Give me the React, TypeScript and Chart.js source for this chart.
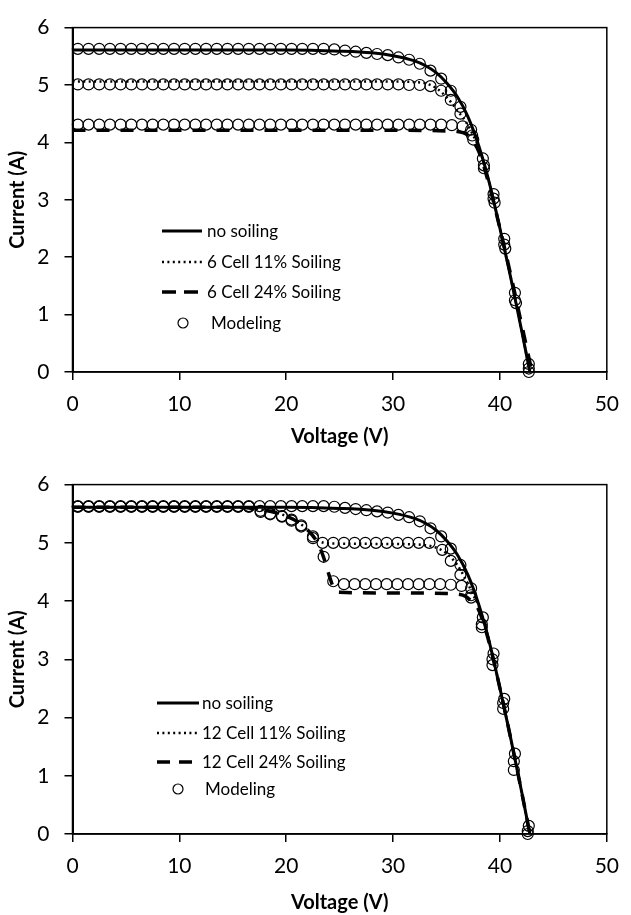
import React, { useEffect, useRef } from "react";
import { Chart, registerables } from "chart.js";
Chart.register(...registerables);

const FONT = "Lato, 'Open Sans', sans-serif";

// ---------- axis ticks ----------
const X_MIN = 0, X_MAX = 50, X_STEP = 10;
const Y_MIN = 0, Y_MAX = 6, Y_STEP = 1;
const X_TITLE = "Voltage (V)";
const Y_TITLE = "Current (A)";

// ---------- no soiling (both panels) ----------
const V_NOSOIL = [0, 10, 20, 25, 28, 30, 32, 33, 34, 35, 36, 37, 38, 39, 40, 41, 42, 42.8];
const I_NOSOIL = [5.61, 5.61, 5.61, 5.59, 5.56, 5.51, 5.42, 5.34, 5.22, 5.04, 4.8, 4.45, 3.95, 3.3, 2.5, 1.65, 0.75, 0.0];

const MV_NOSOIL = [0.5, 1.5, 2.5, 3.5, 4.5, 5.5, 6.5, 7.5, 8.5, 9.5, 10.5, 11.5, 12.5, 13.5, 14.5, 15.5, 16.5, 17.5, 18.5, 19.5, 20.5, 21.5, 22.5, 23.5, 24.5, 25.5, 26.5, 27.5, 28.5, 29.5, 30.5, 31.5, 32.5, 33.5, 34.5, 35.4, 36.3, 37.3, 38.4, 39.4, 40.4, 41.4, 42.7];
const MI_NOSOIL = [5.63, 5.63, 5.63, 5.63, 5.63, 5.63, 5.63, 5.63, 5.63, 5.63, 5.63, 5.63, 5.63, 5.63, 5.63, 5.63, 5.63, 5.63, 5.63, 5.63, 5.63, 5.63, 5.63, 5.63, 5.62, 5.6, 5.58, 5.56, 5.54, 5.52, 5.48, 5.44, 5.37, 5.25, 5.11, 4.9, 4.62, 4.22, 3.72, 3.1, 2.32, 1.38, 0.14];

// ---------- panel 1 : 6 cell ----------
const V_6C11 = [0, 10, 20, 30, 32, 33, 34, 35, 36, 37, 37.5, 38, 39, 40, 41, 42, 42.8];
const I_6C11 = [5.06, 5.06, 5.06, 5.06, 5.05, 5.03, 4.95, 4.79, 4.56, 4.3, 4.12, 3.92, 3.3, 2.5, 1.65, 0.75, 0.0];
const V_6C24 = [0, 10, 20, 30, 35, 36, 36.8, 37.3, 38, 39, 40, 41, 42, 43];
const I_6C24 = [4.21, 4.21, 4.21, 4.21, 4.2, 4.19, 4.15, 4.05, 3.85, 3.25, 2.5, 1.7, 0.85, 0.0];

const MV_6C11 = [0.5, 1.5, 2.5, 3.5, 4.5, 5.5, 6.5, 7.5, 8.5, 9.5, 10.5, 11.5, 12.5, 13.5, 14.5, 15.5, 16.5, 17.5, 18.5, 19.5, 20.5, 21.5, 22.5, 23.5, 24.5, 25.5, 26.5, 27.5, 28.5, 29.5, 30.5, 31.5, 32.5, 33.5, 34.5, 35.4, 36.3, 37.4, 38.5, 39.4, 40.4, 41.4, 42.7];
const MI_6C11 = [5.01, 5.01, 5.01, 5.01, 5.01, 5.01, 5.01, 5.01, 5.01, 5.01, 5.01, 5.01, 5.01, 5.01, 5.01, 5.01, 5.01, 5.01, 5.01, 5.01, 5.01, 5.01, 5.01, 5.01, 5.01, 5.01, 5.01, 5.01, 5.01, 5.01, 5.01, 5.0, 5.0, 4.98, 4.9, 4.74, 4.5, 4.12, 3.6, 3.02, 2.22, 1.25, 0.06];
const MV_6C24 = [0.5, 1.5, 2.5, 3.5, 4.5, 5.5, 6.5, 7.5, 8.5, 9.5, 10.5, 11.5, 12.5, 13.5, 14.5, 15.5, 16.5, 17.5, 18.5, 19.5, 20.5, 21.5, 22.5, 23.5, 24.5, 25.5, 26.5, 27.5, 28.5, 29.5, 30.5, 31.5, 32.5, 33.5, 34.5, 35.5, 36.5, 37.5, 38.5, 39.5, 40.5, 41.5, 42.7];
const MI_6C24 = [4.31, 4.31, 4.31, 4.31, 4.31, 4.31, 4.31, 4.31, 4.31, 4.31, 4.31, 4.31, 4.31, 4.31, 4.31, 4.31, 4.31, 4.31, 4.31, 4.31, 4.31, 4.31, 4.31, 4.31, 4.31, 4.31, 4.31, 4.31, 4.31, 4.31, 4.31, 4.31, 4.31, 4.31, 4.31, 4.3, 4.28, 4.05, 3.55, 2.95, 2.15, 1.2, 0.0];

// ---------- panel 2 : 12 cell ----------
const V_12C11 = [0, 15, 17, 18, 19, 20, 21, 22, 22.5, 23, 23.5, 24, 30, 33, 34, 35, 36, 37, 37.5, 38, 39, 40, 41, 42, 42.8];
const I_12C11 = [5.61, 5.61, 5.59, 5.56, 5.52, 5.46, 5.37, 5.22, 5.12, 5.04, 5.0, 4.99, 4.98, 4.96, 4.92, 4.82, 4.62, 4.3, 4.1, 3.92, 3.3, 2.5, 1.65, 0.75, 0.0];
const V_12C24 = [0, 15, 17, 18, 19, 20, 21, 22, 22.5, 23, 23.5, 24, 24.5, 25, 30, 35, 36, 36.8, 37.3, 38, 39, 40, 41, 42, 42.8];
const I_12C24 = [5.61, 5.61, 5.59, 5.56, 5.52, 5.46, 5.37, 5.22, 5.12, 4.98, 4.75, 4.45, 4.2, 4.15, 4.14, 4.13, 4.12, 4.08, 4.0, 3.85, 3.28, 2.5, 1.65, 0.75, 0.0];

const MV_12C11 = [0.5, 1.5, 2.5, 3.5, 4.5, 5.5, 6.5, 7.5, 8.5, 9.5, 10.5, 11.5, 12.5, 13.5, 14.5, 15.5, 16.5, 17.6, 18.5, 19.6, 20.5, 21.4, 22.5, 23.4, 24.4, 25.4, 26.4, 27.4, 28.4, 29.4, 30.4, 31.4, 32.4, 33.4, 34.6, 35.4, 36.3, 37.3, 38.3, 39.3, 40.3, 41.3, 42.6];
const MI_12C11 = [5.62, 5.62, 5.62, 5.62, 5.62, 5.62, 5.62, 5.62, 5.62, 5.62, 5.62, 5.62, 5.62, 5.62, 5.62, 5.62, 5.62, 5.55, 5.5, 5.46, 5.4, 5.3, 5.11, 5.0, 5.0, 5.0, 5.0, 5.0, 5.0, 5.0, 5.0, 5.0, 5.0, 5.0, 4.88, 4.69, 4.45, 4.1, 3.6, 3.0, 2.25, 1.25, 0.05];
const MV_12C24 = [0.5, 1.5, 2.5, 3.5, 4.5, 5.5, 6.5, 7.5, 8.5, 9.5, 10.5, 11.5, 12.5, 13.5, 14.5, 15.5, 16.5, 17.6, 18.5, 19.6, 20.5, 21.4, 22.5, 23.5, 24.4, 25.4, 26.4, 27.4, 28.4, 29.4, 30.4, 31.4, 32.4, 33.4, 34.4, 35.4, 36.4, 37.3, 38.3, 39.3, 40.3, 41.3, 42.6];
const MI_12C24 = [5.62, 5.62, 5.62, 5.62, 5.62, 5.62, 5.62, 5.62, 5.62, 5.62, 5.62, 5.62, 5.62, 5.62, 5.62, 5.62, 5.62, 5.53, 5.49, 5.45, 5.38, 5.28, 5.08, 4.76, 4.34, 4.29, 4.29, 4.29, 4.29, 4.29, 4.29, 4.29, 4.29, 4.29, 4.29, 4.28, 4.26, 4.06, 3.55, 2.9, 2.15, 1.1, 0.0];

const LABELS_1 = ["no soiling", "6 Cell 11% Soiling", "6 Cell 24% Soiling", "Modeling"];
const LABELS_2 = ["no soiling", "12 Cell 11% Soiling", "12 Cell 24% Soiling", "Modeling"];

const SOLID: number[] = [];
const DOTTED = [2, 3.4];
const DASHED = [13, 11];

function pts(v: number[], c: number[]) {
  return v.map((x, i) => ({ x, y: c[i] }));
}

function lineDs(label: string, v: number[], c: number[], dash: number[], width: number) {
  return {
    label,
    data: pts(v, c),
    showLine: true,
    borderColor: "#000",
    backgroundColor: "#000",
    borderWidth: width,
    borderDash: dash,
    pointRadius: 0,
    pointHoverRadius: 0,
    fill: false,
    cubicInterpolationMode: "monotone",
    clip: 10,
  };
}

function circleDs(label: string, v: number[], c: number[]) {
  return {
    label,
    data: pts(v, c),
    showLine: false,
    pointRadius: 5.5,
    pointHoverRadius: 5.5,
    pointBorderWidth: 1.2,
    pointBorderColor: "#000",
    pointBackgroundColor: "rgba(0,0,0,0)",
    clip: 10,
  };
}

const framePlugin = {
  id: "frame",
  afterDraw(chart: any) {
    const { ctx, chartArea: a } = chart;
    ctx.save();
    ctx.strokeStyle = "#000";
    ctx.lineWidth = 1.5;
    ctx.setLineDash([]);
    ctx.strokeRect(a.left, a.top, a.right - a.left, a.bottom - a.top);
    ctx.restore();
  },
};

const legendPlugin = {
  id: "ivLegend",
  afterDraw(chart: any, _args: any, opts: any) {
    const { ctx } = chart;
    const L = opts.layout;
    ctx.save();
    ctx.fillStyle = "#000";
    ctx.strokeStyle = "#000";
    ctx.font = `${L.fontSize}px ${FONT}`;
    ctx.textBaseline = "middle";
    ctx.textAlign = "left";
    opts.items.forEach((it: any, i: number) => {
      const y = L.rows[i];
      if (it.kind === "line") {
        ctx.beginPath();
        ctx.setLineDash(it.dash);
        ctx.lineWidth = it.width;
        ctx.moveTo(L.x1, y);
        ctx.lineTo(L.x2, y);
        ctx.stroke();
        ctx.setLineDash([]);
        ctx.fillText(it.label, L.textX, y + 1);
      } else {
        ctx.beginPath();
        ctx.lineWidth = 1.2;
        ctx.arc(L.circleX, y, 5, 0, Math.PI * 2);
        ctx.stroke();
        ctx.fillText(it.label, L.circleTextX, y + 1);
      }
    });
    ctx.restore();
  },
};

function makeConfig(p: any) {
  return {
    type: "scatter",
    data: { datasets: p.datasets },
    plugins: [framePlugin, legendPlugin],
    options: {
      animation: false,
      responsive: false,
      devicePixelRatio: 1,
      events: [],
      layout: { padding: { top: p.plotTop, right: 16, left: 0, bottom: 0 } },
      plugins: {
        legend: { display: false },
        tooltip: { enabled: false },
        ivLegend: { items: p.legendItems, layout: p.legendLayout },
      },
      scales: {
        x: {
          type: "linear",
          min: X_MIN,
          max: X_MAX,
          afterFit(s: any) {
            s.height = p.canvasH - p.plotBottom;
          },
          ticks: {
            stepSize: X_STEP,
            color: "#000",
            font: { family: FONT, size: 21 },
            padding: p.xTickPad,
          },
          grid: { drawOnChartArea: false, drawTicks: true, tickLength: 8, color: "#000", lineWidth: 1.5 },
          border: { display: true, color: "#000", width: 1.5 },
          title: {
            display: true,
            text: X_TITLE,
            color: "#000",
            font: { family: FONT, size: 20, weight: "bold" },
            padding: { top: 0, bottom: p.xTitlePad },
          },
        },
        y: {
          type: "linear",
          min: Y_MIN,
          max: Y_MAX,
          afterFit(s: any) {
            s.width = 72.5;
          },
          ticks: {
            stepSize: Y_STEP,
            color: "#000",
            font: { family: FONT, size: 21 },
            padding: 15,
          },
          grid: { drawOnChartArea: false, drawTicks: true, tickLength: 8, color: "#000", lineWidth: 1.5 },
          border: { display: true, color: "#000", width: 2 },
          title: {
            display: true,
            text: Y_TITLE,
            color: "#000",
            font: { family: FONT, size: 20, weight: "bold" },
            padding: { top: 6, bottom: 0 },
          },
        },
      },
    },
  };
}

function legendItemsFor(labels: string[], dashSmall: number[]) {
  return [
    { kind: "line", label: labels[0], dash: SOLID, width: 3 },
    { kind: "line", label: labels[1], dash: DOTTED, width: 2.5 },
    { kind: "line", label: labels[2], dash: dashSmall, width: 3.5 },
    { kind: "circle", label: labels[3] },
  ];
}

const panel1 = {
  canvasH: 457,
  plotTop: 14.5,
  plotBottom: 372,
  xTickPad: 12,
  xTitlePad: 8,
  datasets: [
    lineDs(LABELS_1[0], V_NOSOIL, I_NOSOIL, SOLID, 3),
    lineDs(LABELS_1[1], V_6C11, I_6C11, DOTTED, 2.5),
    lineDs(LABELS_1[2], V_6C24, I_6C24, DASHED, 3.5),
    circleDs(LABELS_1[3], MV_NOSOIL, MI_NOSOIL),
    circleDs(LABELS_1[3], MV_6C11, MI_6C11),
    circleDs(LABELS_1[3], MV_6C24, MI_6C24),
  ],
  legendItems: legendItemsFor(LABELS_1, [14, 8]),
  legendLayout: { fontSize: 17, rows: [231, 262, 292, 323], x1: 162, x2: 202, textX: 207, circleX: 183, circleTextX: 211 },
};

const panel2 = {
  canvasH: 458,
  plotTop: 18,
  plotBottom: 377,
  xTickPad: 12,
  xTitlePad: 0,
  datasets: [
    lineDs(LABELS_2[0], V_NOSOIL, I_NOSOIL, SOLID, 3),
    lineDs(LABELS_2[1], V_12C11, I_12C11, DOTTED, 2.5),
    lineDs(LABELS_2[2], V_12C24, I_12C24, DASHED, 3.5),
    circleDs(LABELS_2[3], MV_NOSOIL, MI_NOSOIL),
    circleDs(LABELS_2[3], MV_12C11, MI_12C11),
    circleDs(LABELS_2[3], MV_12C24, MI_12C24),
  ],
  legendItems: legendItemsFor(LABELS_2, [13, 9]),
  legendLayout: { fontSize: 17, rows: [246, 276, 305, 332], x1: 157, x2: 199, textX: 202, circleX: 178, circleTextX: 205 },
};

function Panel({ spec, top }: { spec: any; top: number }) {
  const ref = useRef<HTMLCanvasElement | null>(null);
  useEffect(() => {
    if (!ref.current) return;
    const chart = new Chart(ref.current, makeConfig(spec) as any);
    return () => chart.destroy();
  }, [spec]);
  return (
    <div style={{ position: "absolute", left: 0, top, width: 631, height: spec.canvasH }}>
      <canvas ref={ref} width={631} height={spec.canvasH} style={{ display: "block", width: 631, height: spec.canvasH }} />
    </div>
  );
}

export default function App() {
  return (
    <div style={{ position: "absolute", left: 0, top: 0, width: 631, height: 915, background: "#fff" }}>
      <Panel spec={panel1} top={0} />
      <Panel spec={panel2} top={457} />
    </div>
  );
}
